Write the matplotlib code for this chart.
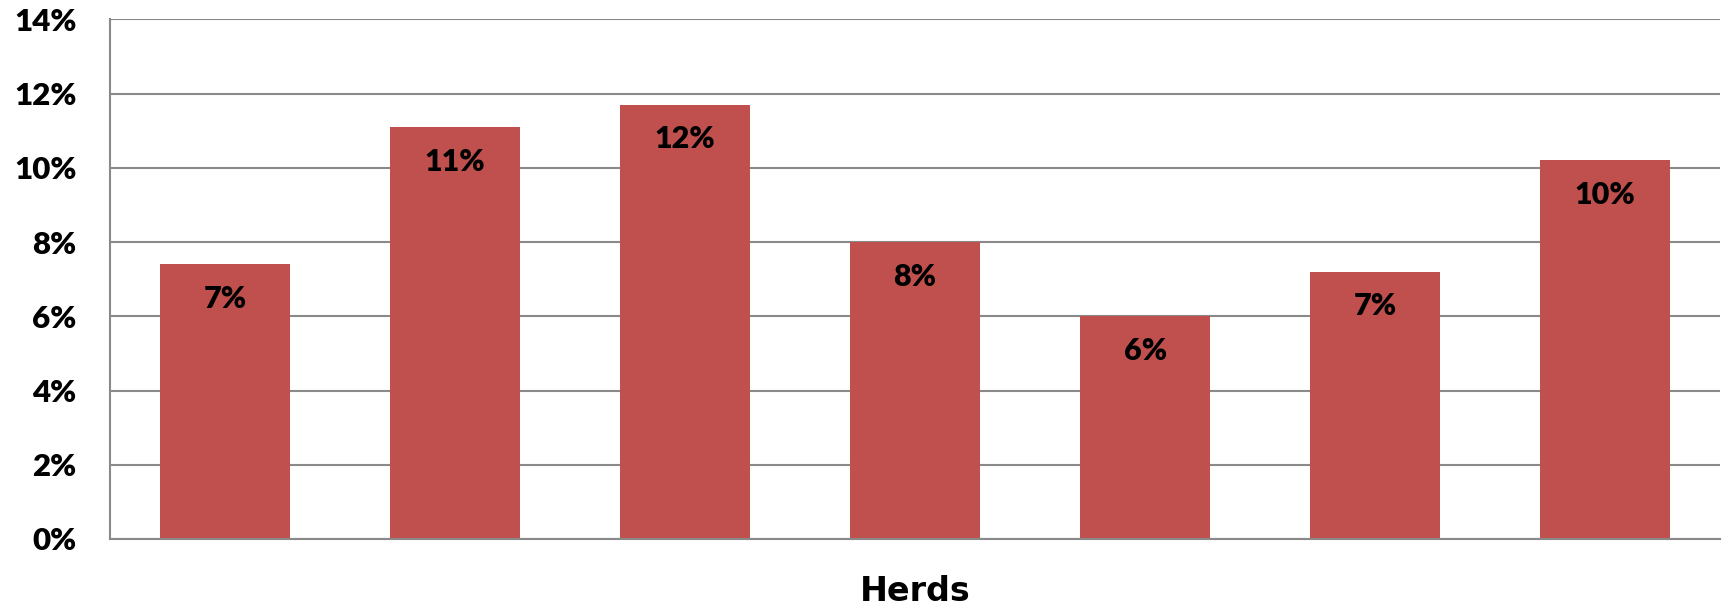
import matplotlib.pyplot as plt
import numpy as np

# herd shares (percent)
herds = ['H1', 'H2', 'H3', 'H4', 'H5', 'H6', 'H7']
values = [7.4, 11.1, 11.7, 8.0, 6.0, 7.2, 10.2]
yticks = [0, 2, 4, 6, 8, 10, 12, 14]

bar_color = '#C0504D'
grid_color = '#898989'

fig = plt.figure(figsize=(17.27, 6.08), dpi=100)
ax = fig.add_axes([0.0637, 0.1135, 0.9323, 0.8548])

x = np.arange(len(herds))
bars = ax.bar(x, values, width=0.568, color=bar_color, zorder=3)

# data labels inside the top of each bar
for b, v in zip(bars, values):
    ax.annotate('%d%%' % round(v), (b.get_x() + b.get_width() / 2, v),
                xytext=(0, -25), textcoords='offset points',
                ha='center', va='center', fontsize=22, fontweight='heavy',
                family='Lato', color='black', zorder=4)

ax.set_xlim(-0.5, len(herds) - 0.5)
ax.set_ylim(0, 14)
ax.set_yticks(yticks)
ax.set_yticklabels(['%d%%' % t for t in yticks], fontsize=22.5,
                   fontweight='heavy', family='Lato')
ax.tick_params(axis='y', length=0, pad=24)
ax.set_xticks([])

ax.yaxis.grid(True, color=grid_color, linewidth=1.5, zorder=0)
for s in ['top', 'right']:
    ax.spines[s].set_visible(False)
for s in ['left', 'bottom']:
    ax.spines[s].set_color(grid_color)
    ax.spines[s].set_linewidth(1.5)
    ax.spines[s].set_zorder(5)

ax.set_xlabel('Herds', fontsize=24, labelpad=26, family='DejaVu Sans',
              fontweight='semibold')

fig.savefig('out.png', dpi=100)
